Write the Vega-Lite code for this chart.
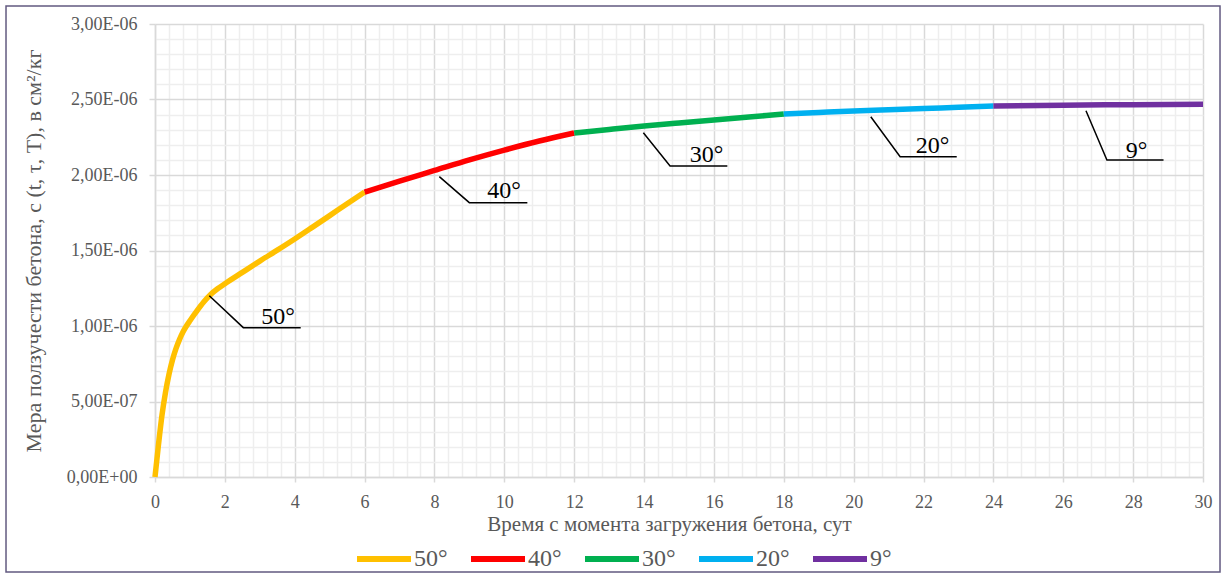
{
  "$schema": "https://vega.github.io/schema/vega-lite/v6.json",
  "width": 1048,
  "height": 453,
  "autosize": {"type": "none"},
  "padding": {"left": 155, "top": 24, "right": 20, "bottom": 97},
  "background": "white",
  "config": {"view": {"stroke": null}, "font": "'Liberation Serif', 'Times New Roman', serif"},
  "datasets": {
    "curve": [
      {"t": 0, "c": 0, "s": "50°"},
      {"t": 0.1, "c": 2.15e-7, "s": "50°"},
      {"t": 0.2, "c": 4.1e-7, "s": "50°"},
      {"t": 0.3, "c": 5.6e-7, "s": "50°"},
      {"t": 0.4, "c": 6.8e-7, "s": "50°"},
      {"t": 0.5, "c": 7.75e-7, "s": "50°"},
      {"t": 0.6, "c": 8.5e-7, "s": "50°"},
      {"t": 0.7, "c": 9.1e-7, "s": "50°"},
      {"t": 0.8, "c": 9.6e-7, "s": "50°"},
      {"t": 0.9, "c": 1.0e-6, "s": "50°"},
      {"t": 1.0, "c": 1.035e-6, "s": "50°"},
      {"t": 1.2, "c": 1.1e-6, "s": "50°"},
      {"t": 1.4, "c": 1.16e-6, "s": "50°"},
      {"t": 1.6, "c": 1.21e-6, "s": "50°"},
      {"t": 1.8, "c": 1.248e-6, "s": "50°"},
      {"t": 2, "c": 1.28e-6, "s": "50°"},
      {"t": 2.5, "c": 1.355e-6, "s": "50°"},
      {"t": 3, "c": 1.43e-6, "s": "50°"},
      {"t": 3.5, "c": 1.502e-6, "s": "50°"},
      {"t": 4, "c": 1.576e-6, "s": "50°"},
      {"t": 4.5, "c": 1.653e-6, "s": "50°"},
      {"t": 5, "c": 1.731e-6, "s": "50°"},
      {"t": 5.5, "c": 1.81e-6, "s": "50°"},
      {"t": 6, "c": 1.887e-6, "s": "50°"},
      {"t": 6, "c": 1.887e-6, "s": "40°"},
      {"t": 7, "c": 1.96e-6, "s": "40°"},
      {"t": 8, "c": 2.03e-6, "s": "40°"},
      {"t": 9, "c": 2.1e-6, "s": "40°"},
      {"t": 10, "c": 2.165e-6, "s": "40°"},
      {"t": 11, "c": 2.225e-6, "s": "40°"},
      {"t": 12, "c": 2.278e-6, "s": "40°"},
      {"t": 12, "c": 2.278e-6, "s": "30°"},
      {"t": 13, "c": 2.302e-6, "s": "30°"},
      {"t": 14, "c": 2.325e-6, "s": "30°"},
      {"t": 15, "c": 2.345e-6, "s": "30°"},
      {"t": 16, "c": 2.364e-6, "s": "30°"},
      {"t": 17, "c": 2.384e-6, "s": "30°"},
      {"t": 18, "c": 2.404e-6, "s": "30°"},
      {"t": 18, "c": 2.404e-6, "s": "20°"},
      {"t": 19, "c": 2.414e-6, "s": "20°"},
      {"t": 20, "c": 2.424e-6, "s": "20°"},
      {"t": 21, "c": 2.432e-6, "s": "20°"},
      {"t": 22, "c": 2.44e-6, "s": "20°"},
      {"t": 23, "c": 2.449e-6, "s": "20°"},
      {"t": 24, "c": 2.457e-6, "s": "20°"},
      {"t": 24, "c": 2.457e-6, "s": "9°"},
      {"t": 26, "c": 2.462e-6, "s": "9°"},
      {"t": 28, "c": 2.466e-6, "s": "9°"},
      {"t": 30, "c": 2.469e-6, "s": "9°"}
    ],
    "leaders": [
      {"label": "50°", "o": 1, "t": 1.555, "v": 1.2007e-6},
      {"label": "50°", "o": 2, "t": 2.528, "v": 9.89e-7},
      {"label": "50°", "o": 3, "t": 4.171, "v": 9.89e-7},
      {"label": "40°", "o": 1, "t": 8.139, "v": 1.989e-6},
      {"label": "40°", "o": 2, "t": 8.998, "v": 1.817e-6},
      {"label": "40°", "o": 3, "t": 10.659, "v": 1.817e-6},
      {"label": "30°", "o": 1, "t": 13.98, "v": 2.28e-6},
      {"label": "30°", "o": 2, "t": 14.744, "v": 2.06e-6},
      {"label": "30°", "o": 3, "t": 16.384, "v": 2.06e-6},
      {"label": "20°", "o": 1, "t": 20.49, "v": 2.386e-6},
      {"label": "20°", "o": 2, "t": 21.33, "v": 2.121e-6},
      {"label": "20°", "o": 3, "t": 22.95, "v": 2.121e-6},
      {"label": "9°", "o": 1, "t": 26.65, "v": 2.426e-6},
      {"label": "9°", "o": 2, "t": 27.25, "v": 2.099e-6},
      {"label": "9°", "o": 3, "t": 28.87, "v": 2.099e-6}
    ],
    "labels": [
      {"label": "50°", "t": 3.52, "v": 1.013e-6},
      {"label": "40°", "t": 9.99, "v": 1.848e-6},
      {"label": "30°", "t": 15.79, "v": 2.088e-6},
      {"label": "20°", "t": 22.26, "v": 2.144e-6},
      {"label": "9°", "t": 28.1, "v": 2.111e-6}
    ]
  },
  "layer": [
    {
      "data": {"values": [{}]},
      "mark": {"type": "rect", "fill": "transparent", "stroke": "#625a80", "strokeWidth": 1.5},
      "encoding": {
        "x": {"datum": -4.265, "type": "quantitative", "scale": {"domain": [0, 30], "nice": false}, "axis": null},
        "x2": {"datum": 30.487},
        "y": {"datum": 3.119e-6, "type": "quantitative", "scale": {"domain": [0, 3e-6], "nice": false}, "axis": null},
        "y2": {"datum": -6.29e-7}
      }
    },
    {
      "data": {"name": "curve"},
      "mark": {"type": "line", "strokeWidth": 5.5, "interpolate": "monotone"},
      "encoding": {
        "x": {"field": "t", "type": "quantitative",
          "axis": {"orient": "bottom", "values": [0.4,0.8,1.2,1.6,2.4,2.8,3.2,3.6,4.4,4.8,5.2,5.6,6.4,6.8,7.2,7.6,8.4,8.8,9.2,9.6,10.4,10.8,11.2,11.6,12.4,12.8,13.2,13.6,14.4,14.8,15.2,15.6,16.4,16.8,17.2,17.6,18.4,18.8,19.2,19.6,20.4,20.8,21.2,21.6,22.4,22.8,23.2,23.6,24.4,24.8,25.2,25.6,26.4,26.8,27.2,27.6,28.4,28.8,29.2,29.6],
            "grid": true, "gridColor": "#eeeeee", "gridWidth": 1.5, "labels": false, "ticks": false, "domain": false, "title": null}},
        "y": {"field": "c", "type": "quantitative",
          "axis": {"orient": "left", "values": [1e-7,2e-7,3e-7,4e-7,6e-7,7e-7,8e-7,9e-7,1.1e-6,1.2e-6,1.3e-6,1.4e-6,1.6e-6,1.7e-6,1.8e-6,1.9e-6,2.1e-6,2.2e-6,2.3e-6,2.4e-6,2.6e-6,2.7e-6,2.8e-6,2.9e-6],
            "grid": true, "gridColor": "#eeeeee", "gridWidth": 1.5, "labels": false, "ticks": false, "domain": false, "title": null}},
        "color": {"field": "s", "type": "nominal",
          "scale": {"domain": ["50°", "40°", "30°", "20°", "9°"], "range": ["#FFC000", "#FF0000", "#00B050", "#00B0F0", "#7030A0"]},
          "legend": {"orient": "none", "legendX": 199, "legendY": 505, "direction": "horizontal", "title": null,
            "symbolType": "stroke", "symbolSize": 2916, "symbolStrokeWidth": 6, "labelFontSize": 24, "labelColor": "#595959",
            "labelFont": "'Liberation Serif', 'Times New Roman', serif", "labelOffset": 0, "columnPadding": 11, "padding": 0}}
      }
    },
    {
      "data": {"name": "leaders"},
      "mark": {"type": "line", "color": "black", "strokeWidth": 1.5},
      "encoding": {
        "x": {"field": "t", "type": "quantitative",
          "axis": {"orient": "bottom", "values": [0,2,4,6,8,10,12,14,16,18,20,22,24,26,28,30], "grid": true, "gridColor": "#d9d9d9", "gridWidth": 1.5,
            "domain": true, "domainColor": "#d9d9d9", "domainWidth": 1.5, "ticks": true, "tickColor": "#d9d9d9", "tickSize": 5, "tickWidth": 1.5,
            "labelFontSize": 18, "labelColor": "#595959", "labelFont": "'Liberation Serif', 'Times New Roman', serif", "labelPadding": 11, "labelFlush": false, "labelOverlap": false,
            "title": "Время с момента загружения  бетона, сут", "titleFontSize": 21, "titleFont": "'Liberation Serif', 'Times New Roman', serif", "titleFontWeight": "normal", "titleColor": "#595959", "titlePadding": 2, "titleX": 514}},
        "y": {"field": "v", "type": "quantitative",
          "axis": {"orient": "left", "values": [0,5e-7,1e-6,1.5e-6,2e-6,2.5e-6,3e-6], "grid": true, "gridColor": "#d9d9d9", "gridWidth": 1.5,
            "domain": true, "domainColor": "#d9d9d9", "domainWidth": 1.5, "ticks": true, "tickColor": "#d9d9d9", "tickSize": 6, "tickWidth": 1.5,
            "labelExpr": "datum.value == 0 ? '0,00E+00' : datum.value < 9e-7 ? replace(format(datum.value * 1e7, '.2f'), '.', ',') + 'E-07' : replace(format(datum.value * 1e6, '.2f'), '.', ',') + 'E-06'",
            "labelFontSize": 18, "labelColor": "#595959", "labelFont": "'Liberation Serif', 'Times New Roman', serif", "labelPadding": 12, "labelFlush": false, "labelOverlap": false,
            "title": "Мера ползучести бетона, c (t, τ, T), в см²/кг", "titleFontSize": 22, "titleFont": "'Liberation Serif', 'Times New Roman', serif", "titleFontWeight": "normal", "titleColor": "#595959", "titlePadding": 21}},
        "detail": {"field": "label"},
        "order": {"field": "o"}
      }
    },
    {
      "data": {"name": "labels"},
      "mark": {"type": "text", "fontSize": 24, "baseline": "alphabetic", "align": "center", "color": "black", "font": "'Liberation Serif', 'Times New Roman', serif"},
      "encoding": {
        "x": {"field": "t", "type": "quantitative", "axis": null},
        "y": {"field": "v", "type": "quantitative", "axis": null},
        "text": {"field": "label"}
      }
    }
  ],
  "resolve": {"axis": {"x": "independent", "y": "independent"}}
}
